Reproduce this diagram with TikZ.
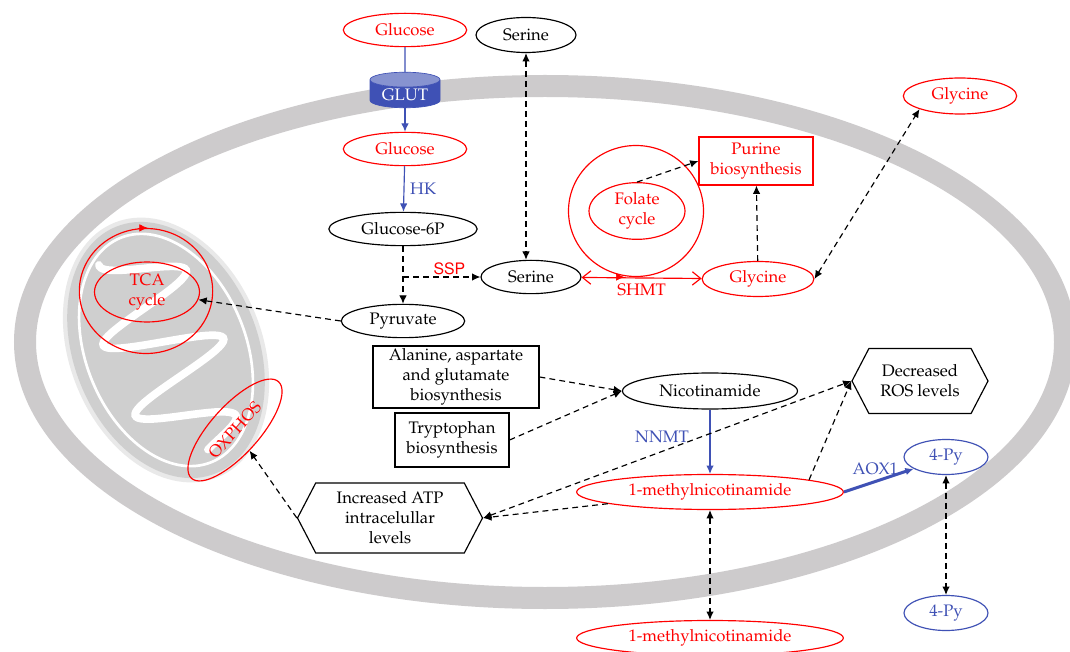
\documentclass[tikz,border=0pt]{standalone}
\usepackage[T1]{fontenc}
\usepackage{mathpazo}
\usepackage[scaled=0.95]{helvet}
\usetikzlibrary{shapes.geometric,shapes.symbols,arrows.meta}
\definecolor{memgray}{RGB}{205,203,204}
\definecolor{mitogray}{RGB}{207,207,207}
\definecolor{nblue}{RGB}{63,81,181}
\definecolor{nbluelight}{RGB}{135,147,208}
\tikzset{
  mol/.style={ellipse, draw, line width=0.7pt, inner sep=0pt, minimum height=20pt},
  redmol/.style={mol, draw=red, text=red},
  bluemol/.style={mol, draw=nblue, text=nblue},
  pathbox/.style={draw, line width=0.7pt, align=center, inner sep=0pt},
  effect/.style={signal, signal to=east and west, signal pointer angle=125, draw, line width=0.7pt, align=center, inner sep=0pt},
  tip/.style={-{Latex[length=5pt,width=4.5pt]}},
  dashline/.style={line width=0.7pt, dash pattern=on 3.5pt off 2.5pt},
  dashto/.style={dashline, -{Latex[length=5pt,width=4.5pt]}},
  dashboth/.style={dashline, {Latex[length=5pt,width=4.5pt]}-{Latex[length=5pt,width=4.5pt]}},
  enzyme/.style={nblue, line width=0.7pt, -{Latex[length=5pt,width=4.5pt]}},
}
\begin{document}
\begin{tikzpicture}[x=0.6pt, y=-0.6pt]
  \useasboundingbox (0,0) rectangle (1070,652);
  \fill[white] (0,0) rectangle (1070,652);
  % cell membrane
  \draw[memgray, line width=13.2pt] (545,342) ellipse [x radius=520, y radius=256];
  % mitochondrion
  \begin{scope}[shift={(166,350)}, rotate=22]
    \draw[mitogray!45, line width=4pt] (0,0) ellipse [x radius=93, y radius=134];
    \fill[mitogray] (0,0) ellipse [x radius=92, y radius=133];
    \draw[white, line width=1.6pt] (0,0) ellipse [x radius=80, y radius=121];
    \draw[white, line width=4.6pt, line cap=round, domain=-104:108, samples=120]
      plot ({58*sqrt(1-(\x/123)^2)*sin(4.6*\x+40)},\x);
  \end{scope}

  \node[redmol, minimum width=74pt] (glcout) at (405,30) {Glucose};
  \node[mol, minimum width=60pt, minimum height=21pt] (serout) at (526,35) {Serine};
  \node[cylinder, shape border rotate=90, aspect=0.3, minimum width=42pt, minimum height=21pt,
        cylinder uses custom fill, cylinder body fill=nblue, cylinder end fill=nbluelight,
        draw=nblue, text=white, inner sep=1pt] (glut) at (405,95) {GLUT};
  \node[redmol, minimum width=74pt] (glcin) at (405,149) {Glucose};
  \node[mol, minimum width=89pt] (g6p) at (403,229) {Glucose-6P};
  \node[mol, minimum width=74pt] (pyr) at (403,321) {Pyruvate};
  \node[mol, minimum width=60pt] (serin) at (531,277) {Serine};
  \node[redmol, minimum width=67pt, minimum height=21pt] (glyin) at (758,279) {Glycine};
  \node[redmol, minimum width=68pt, minimum height=21.6pt] (glyout) at (960,96) {Glycine};
  \node[ellipse, draw=red, line width=0.7pt, minimum width=81pt, minimum height=78.6pt] (folcyc) at (636,211) {};
  \node[redmol, minimum width=57.6pt, minimum height=34pt, align=center] (folate) at (637,211) {Folate\\cycle};
  \node[pathbox, draw=red, text=red, minimum width=68.4pt, minimum height=28.8pt] (purine) at (756,161) {Purine\\biosynthesis};
  \node[ellipse, draw=red, line width=0.7pt, minimum width=80pt, minimum height=75pt] (tcacyc) at (146,291) {};
  \node[redmol, minimum width=63pt, minimum height=36pt, align=center] (tca) at (147,292) {TCA\\cycle};
  \node[redmol, rotate=48, minimum width=78pt, minimum height=29pt] (oxphos) at (235,430) {OXPHOS};
  \node[pathbox, minimum width=99.6pt, minimum height=37.2pt] (ala) at (456,377) {Alanine, aspartate\\and glutamate\\biosynthesis};
  \node[pathbox, minimum width=68.4pt, minimum height=32.4pt] (trp) at (452,440) {Tryptophan\\biosynthesis};
  \node[mol, minimum width=105pt, minimum height=21.6pt] (nic) at (710,391) {Nicotinamide};
  \node[effect, minimum width=81.6pt, minimum height=39pt] (ros) at (920,381) {Decreased\\ROS levels};
  \node[effect, minimum width=111pt, minimum height=42pt] (atp) at (390,518) {Increased ATP\\intracelullar\\levels};
  \node[redmol, minimum width=160pt, minimum height=21pt] (mna) at (710,492) {1-methylnicotinamide};
  \node[bluemol, minimum width=50.4pt, minimum height=21pt] (pyin) at (946,457) {4-Py};
  \node[bluemol, minimum width=50.4pt, minimum height=21pt] (pyout) at (946,613) {4-Py};
  \node[redmol, minimum width=160pt, minimum height=21pt] (mnaout) at (710,638) {1-methylnicotinamide};

  \draw[nblue, line width=0.7pt] (glcout) -- (glut);
  \draw[enzyme] (glut) -- (glcin);
  \draw[enzyme] (glcin) -- node[right] {HK} (g6p);
  \draw[dashto] (g6p) -- (pyr);
  \coordinate (ssp) at (g6p |- serin);
  \draw[dashto] (ssp) -- node[above, pos=0.6, inner sep=1pt, text=red, font=\sffamily] {SSP} (serin);
  \draw[dashboth] (serout) -- (serout |- serin.north);
  \draw[red, line width=0.7pt, {Straight Barb[length=5pt,width=8pt]}-{Straight Barb[length=5pt,width=8pt]}]
    (serin) -- node[below] {SHMT} (glyin);
  \draw[red, tip] ([xshift=-13pt]folcyc.south) -- ([xshift=-7pt]folcyc.south);
  \draw[red, tip] ([xshift=-5pt]tcacyc.north) -- ([xshift=1pt]tcacyc.north);
  \draw[dashto] (folate.north) -- (purine.west);
  \draw[dashto] (glyin) -- (purine);
  \draw[dashboth] (glyin.east) -- (glyout.south west);
  \draw[dashto] (pyr.west) -- (tca);
  \draw[dashto] (ala.east) -- (nic.west);
  \draw[dashto] (trp.east) -- (nic.west);
  \draw[enzyme] (nic) -- node[left, pos=0.43, xshift=-9pt] {NNMT} (mna);
  \draw[dashto] (mna) -- (atp.east);
  \draw[dashboth] (atp.east) -- (ros.west);
  \draw[dashto] (mna.7) -- (ros.west);
  \draw[dashto] (atp.west) -- (oxphos);
  \draw[dashboth] (mna) -- (mnaout);
  \draw[enzyme, line width=1.8pt] (mna.east) -- node[above, pos=0.45] {AOX1} (pyin.200);
  \draw[dashboth] (pyin) -- (pyout);
\end{tikzpicture}
\end{document}
